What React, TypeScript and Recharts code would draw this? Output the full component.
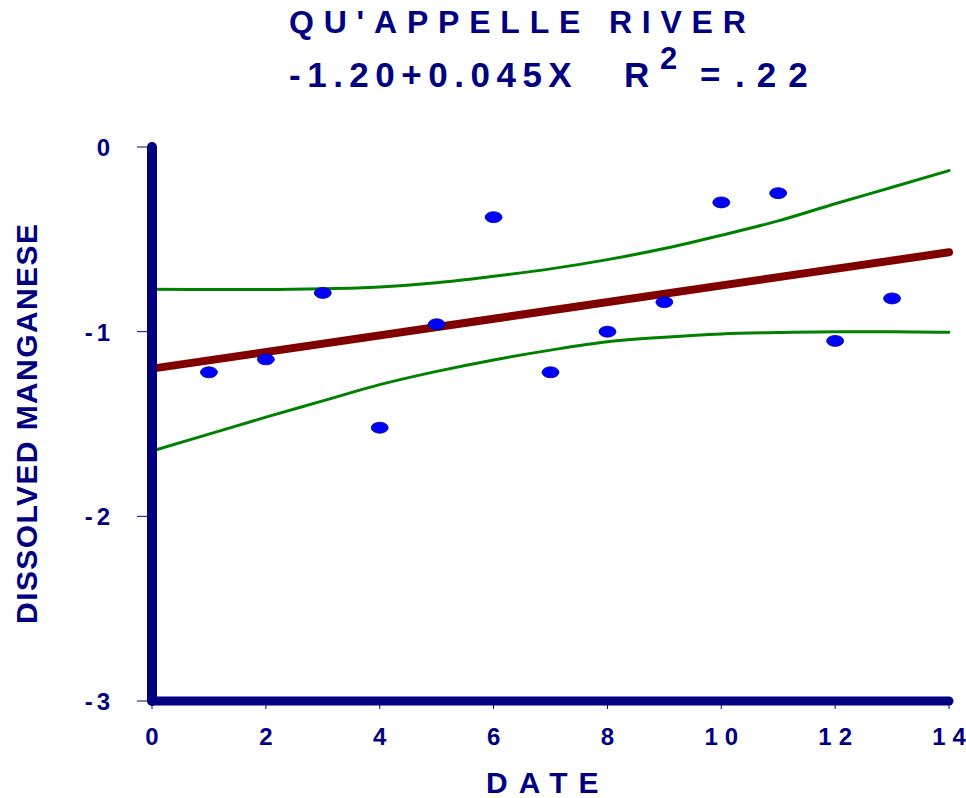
import { ComposedChart, Line, Scatter, XAxis, YAxis } from "recharts";

const NAVY = "#000080";
const FONT = "'Liberation Sans', Arial, sans-serif";

// sample points (date, dissolved manganese)
const obsX = [1, 2, 3, 4, 5, 6, 7, 8, 9, 10, 11, 12, 13];
const obsY = [-1.22, -1.15, -0.79, -1.52, -0.96, -0.38, -1.22, -1.0, -0.84, -0.3, -0.25, -1.05, -0.82];

// confidence band
const bandX = [0, 1, 2, 3, 4, 5, 6, 7, 8, 9, 10, 11, 12, 13, 14];
const upperY = [-0.77, -0.772, -0.772, -0.768, -0.758, -0.735, -0.7, -0.66, -0.61, -0.55, -0.478, -0.4, -0.307, -0.218, -0.128];
const lowerY = [-1.646, -1.555, -1.463, -1.375, -1.287, -1.215, -1.153, -1.1, -1.055, -1.03, -1.012, -1.005, -1.0, -1.0, -1.003];

// fitted line end points
const fitX = [0, 14];
const fitY = [-1.2, -0.57];

const xTicks = [0, 2, 4, 6, 8, 10, 12, 14];
const yTicks = [0, -1, -2, -3];

const points = obsX.map((x, i) => ({ x, y: obsY[i] }));
const band = bandX.map((x, i) => ({ x, upper: upperY[i], lower: lowerY[i] }));
const fit = fitX.map((x, i) => ({ x, fit: fitY[i] }));

const Dot = ({ cx, cy }: any) => (
  <ellipse cx={cx} cy={cy} rx={8.5} ry={5.5} fill="#0000FF" stroke={NAVY} strokeWidth={0.8} />
);

// spaced-out characters without trailing gap
const spaced = (s: string, gap: number) =>
  s.split("").map((c, i) => (
    <tspan key={i} dx={i ? gap : 0}>{c}</tspan>
  ));

const XTick = ({ x, y, payload }: any) => (
  <text x={x} y={y} dx={-3} dy={32} textAnchor="middle" fill={NAVY} fontFamily={FONT}
    fontWeight="bold" fontSize={24}>
    {spaced(String(payload.value), 7)}
  </text>
);

const YTick = ({ x, y, payload }: any) => (
  <text x={x} y={y} dy={9} textAnchor="end" fill={NAVY} fontFamily={FONT}
    fontWeight="bold" fontSize={24}>
    {spaced(String(payload.value), 4)}
  </text>
);

const txt = { fill: NAVY, fontFamily: FONT, fontWeight: "bold" as const };

const App = () => {
  return (
    <div style={{ position: "absolute", left: 0, top: 0, width: 966, height: 798, background: "#fff" }}>
      <ComposedChart width={966} height={798} data={band}
        margin={{ top: 147, right: 17, bottom: 0, left: 0 }}>
        <XAxis type="number" dataKey="x" domain={[0, 14]} ticks={xTicks} height={97}
          axisLine={{ stroke: NAVY, strokeWidth: 9, strokeLinecap: "round" }}
          tickLine={{ stroke: NAVY, strokeWidth: 1 }} tickSize={8} tickMargin={4} tick={<XTick />} />
        <YAxis type="number" domain={[-3, 0]} ticks={yTicks} width={152}
          axisLine={{ stroke: NAVY, strokeWidth: 10, strokeLinecap: "round" }}
          tickLine={{ stroke: NAVY, strokeWidth: 1 }} tickSize={15} tickMargin={27} tick={<YTick />} />
        <Line type="monotone" dataKey="upper" stroke="#008000" strokeWidth={3} dot={false}
          strokeLinecap="round" isAnimationActive={false} />
        <Line type="monotone" dataKey="lower" stroke="#008000" strokeWidth={3} dot={false}
          strokeLinecap="round" isAnimationActive={false} />
        <Line data={fit} type="linear" dataKey="fit" stroke="#800000" strokeWidth={8} dot={false}
          strokeLinecap="round" isAnimationActive={false} />
        <Scatter data={points} dataKey="y" shape={<Dot />} isAnimationActive={false} />
      </ComposedChart>

      <svg width={966} height={798} style={{ position: "absolute", left: 0, top: 0, pointerEvents: "none" }}>
        <text x={289} y={33} fontSize={32} {...txt}>{spaced("QU'APPELLE RIVER", 9.8)}</text>
        <text x={289} y={87} fontSize={35} {...txt}>{spaced("-1.20+0.045X", 6.5)}</text>
        <text x={624} y={87} fontSize={35} {...txt}>R</text>
        <text x={660} y={69} fontSize={31} {...txt}>2</text>
        <text x={700} y={87} fontSize={35} {...txt}>=</text>
        <text x={735} y={87} fontSize={35} {...txt}>{spaced(".22", 12)}</text>
        <text transform="translate(37,424) rotate(-90)" textAnchor="middle" fontSize={30} {...txt}>
          {spaced("DISSOLVED MANGANESE", 1.4)}
        </text>
        <text x={486} y={793} fontSize={30} {...txt}>{spaced("DATE", 11)}</text>
      </svg>
    </div>
  );
};

export default App;
